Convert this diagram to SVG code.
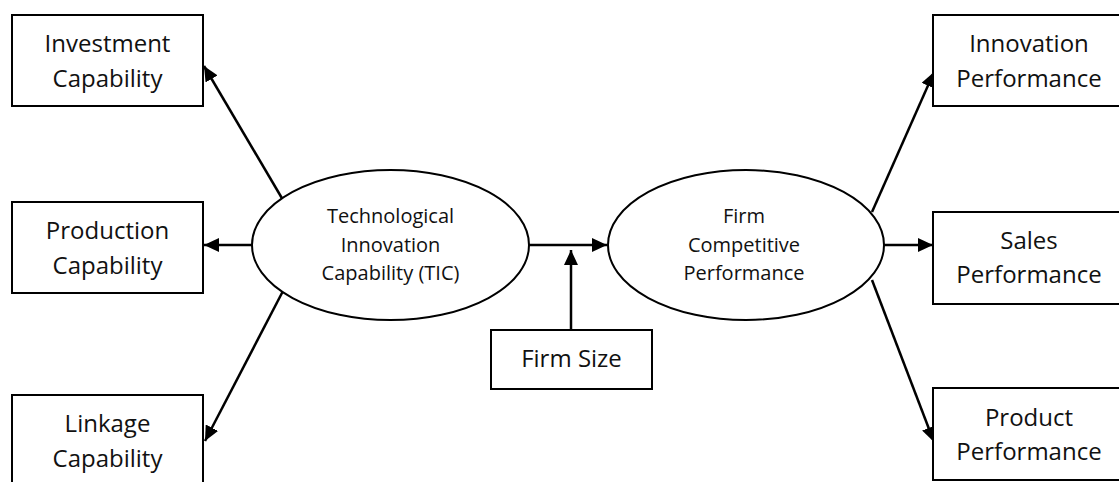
<svg xmlns="http://www.w3.org/2000/svg" width="1119" height="482" viewBox="0 0 1119 482">
  <style>
    .box { fill: #ffffff; stroke: #000000; stroke-width: 2; }
    .oval { fill: #ffffff; stroke: #000000; stroke-width: 2; }
    .lbl { font-family: "Open Sans", "Noto Sans", sans-serif; font-size: 24px; fill: #111111; text-anchor: middle; }
    .lbl-sm { font-family: "Open Sans", "Noto Sans", sans-serif; font-size: 20px; fill: #111111; text-anchor: middle; }
    .link { stroke: #000000; stroke-width: 2.5; fill: none; marker-end: url(#head); }
  </style>
  <defs>
    <marker id="head" markerUnits="userSpaceOnUse" markerWidth="16" markerHeight="14" refX="15" refY="7" orient="auto">
      <path d="M0,0 L15,7 L0,14 Z" fill="#000000"/>
    </marker>
  </defs>
  <rect width="1119" height="482" fill="#ffffff"/>

  <!-- connectors -->
  <g id="connectors">
    <line class="link" x1="283" y1="200" x2="204" y2="66"/>
    <line class="link" x1="252" y1="245" x2="204" y2="245"/>
    <line class="link" x1="283" y1="291" x2="205" y2="441"/>
    <line class="link" x1="529" y1="245" x2="607" y2="245"/>
    <line class="link" x1="571" y1="330" x2="571" y2="250"/>
    <line class="link" x1="872" y1="212" x2="934" y2="72"/>
    <line class="link" x1="884" y1="245" x2="933" y2="245"/>
    <line class="link" x1="872" y1="280" x2="934" y2="442"/>
  </g>

  <!-- left column -->
  <g id="investment-capability">
    <rect class="box" x="12" y="15" width="191" height="91"/>
    <text class="lbl" x="107.5" y="52">Investment</text>
    <text class="lbl" x="107.5" y="87">Capability</text>
  </g>
  <g id="production-capability">
    <rect class="box" x="12" y="202" width="191" height="91"/>
    <text class="lbl" x="107.5" y="239">Production</text>
    <text class="lbl" x="107.5" y="274">Capability</text>
  </g>
  <g id="linkage-capability">
    <rect class="box" x="12" y="395" width="191" height="91"/>
    <text class="lbl" x="107.5" y="432">Linkage</text>
    <text class="lbl" x="107.5" y="467">Capability</text>
  </g>

  <!-- centre -->
  <g id="tic">
    <ellipse class="oval" cx="390.5" cy="245" rx="138.5" ry="75"/>
    <text class="lbl-sm" x="390.5" y="223">Technological</text>
    <text class="lbl-sm" x="390.5" y="252">Innovation</text>
    <text class="lbl-sm" x="390.5" y="280">Capability (TIC)</text>
  </g>
  <g id="firm-competitive-performance">
    <ellipse class="oval" cx="746" cy="245" rx="138" ry="75"/>
    <text class="lbl-sm" x="744" y="223">Firm</text>
    <text class="lbl-sm" x="744" y="252">Competitive</text>
    <text class="lbl-sm" x="744" y="280">Performance</text>
  </g>
  <g id="firm-size">
    <rect class="box" x="491" y="330" width="161" height="59"/>
    <text class="lbl" x="571.5" y="367">Firm Size</text>
  </g>

  <!-- right column -->
  <g id="innovation-performance">
    <rect class="box" x="933" y="15" width="191" height="91"/>
    <text class="lbl" x="1029" y="52">Innovation</text>
    <text class="lbl" x="1029" y="87">Performance</text>
  </g>
  <g id="sales-performance">
    <rect class="box" x="933" y="212" width="191" height="92"/>
    <text class="lbl" x="1029" y="249">Sales</text>
    <text class="lbl" x="1029" y="283">Performance</text>
  </g>
  <g id="product-performance">
    <rect class="box" x="933" y="388" width="191" height="92"/>
    <text class="lbl" x="1029" y="426">Product</text>
    <text class="lbl" x="1029" y="460">Performance</text>
  </g>
</svg>
